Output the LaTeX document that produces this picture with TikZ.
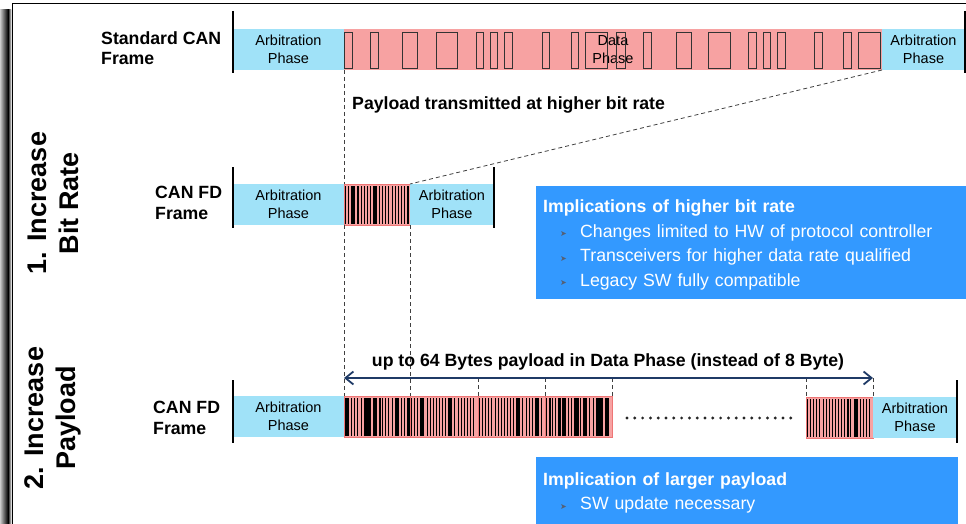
\documentclass[tikz,border=0pt]{standalone}
\usepackage{fontspec}
\setmainfont{Liberation Sans}
\newfontfamily\symfont{DejaVu Sans}
\usetikzlibrary{arrows.meta, positioning, calc}
\definecolor{cfarb}{RGB}{160,226,248}
\definecolor{cfdata}{RGB}{247,162,162}
\definecolor{cfedge}{RGB}{238,118,118}
\definecolor{cfbox}{RGB}{51,153,255}
\definecolor{cfnavy}{RGB}{31,58,102}
\definecolor{cfbullet}{RGB}{85,95,115}
\newcommand\fs[2]{\fontsize{#1}{#2}\selectfont}
\newcommand\bul{\makebox[20pt][l]{\raisebox{0.5pt}{\symfont\fs{8}{8}\textcolor{cfbullet}{➤}}}}
\pgfmathdeclarerandomlist{barw}{{0.7}{0.7}{0.8}{1}{1.6}{3}}
% dense bit pattern inside a data block
\newcommand\burst[1]{%
  \foreach \k in {0,...,20} {
    \pgfmathrandomitem{\bw}{barw}
    \fill[black] ($(#1.north west)+(1+3.1*\k,1.5)$) rectangle ++(\bw,38);
  }
}
\tikzset{
    arb/.style={fill=cfarb, inner sep=0pt, outer sep=0pt, minimum height=41pt, anchor=north west,
                align=center, font=\fs{14.5}{18}},
    datablk/.style={arb, fill=cfdata, draw=cfedge, line width=0.8pt},
    framelbl/.style={font=\bfseries\fs{17.7}{20.5}, align=left, anchor=base west, inner sep=0pt},
    rowlbl/.style={font=\bfseries\fs{27}{32}, align=center, rotate=90, inner sep=0pt},
    note/.style={font=\bfseries\fs{17.7}{20}, inner sep=0pt},
    bound/.style={line width=1.4pt},
    guide/.style={line width=0.8pt, dash pattern=on 4pt off 3pt, black!75},
    pulse/.style={draw=black!80, line width=0.8pt},
    infobox/.style={fill=cfbox, text=white, inner xsep=7pt, inner ysep=0pt, anchor=north west,
                    align=left, font=\fs{17.7}{24.5}},
    span/.style={{Straight Barb[length=8pt,width=13pt]}-{Straight Barb[length=8pt,width=13pt]},
                 line width=1.8pt, draw=cfnavy},
}

\begin{document}
\begin{tikzpicture}[x=1pt, y=-1pt]
    \clip (0,0) rectangle (966,524);
    \pgfmathsetseed{11}
    % slide frame
    \shade[left color=gray!40, right color=black] (0,10) rectangle (8,524);
    \shade[left color=black, right color=white] (8,10) rectangle (11.5,524);
    \draw[line width=1.5pt] (12.5,524) -- (12.5,3.5) -- (966,3.5);

    \node[rowlbl] (r1) at (53,203) {1. Increase\\Bit Rate};
    \node[rowlbl] (r2) at (53,418) {2. Increase\\Payload};

    % standard CAN frame
    \node[framelbl] (slbl) at (101,65) {Standard CAN\\Frame};
    \node[arb, minimum width=111pt] (sarb1) at (233,29) {Arbitration\\Phase};
    \node[datablk, draw=none, minimum width=538pt, right=0pt of sarb1] (sdat) {Data\\Phase};
    \node[arb, minimum width=83pt, right=0pt of sdat] (sarb2) {Arbitration\\Phase};
    \foreach \a/\b in {344/352, 370/378, 402/417, 436/457, 476/483, 490/497, 504/512, 542/549,
                       571/578, 585/607, 616/625, 643/651, 676/691, 708/730, 748/756, 763/770,
                       777/785, 814/822, 843/851, 858/880}
        \draw[pulse] (\a,32) rectangle (\b,68);
    \draw[bound] ($(sarb1.north west)+(0,-18)$) -- ($(sarb1.south west)+(0,3)$);
    \draw[bound] ($(sarb2.north east)+(0,-18)$) -- ($(sarb2.south east)+(0,3)$);
    \node[note, anchor=base west] (ptxt) at (352,110) {Payload transmitted at higher bit rate};

    % CAN FD frame, higher bit rate
    \node[framelbl] (flbl) at (155,219) {CAN FD\\Frame};
    \node[arb, minimum width=111pt] (farb1) at (233,184) {Arbitration\\Phase};
    \node[datablk, minimum width=66pt, right=0pt of farb1] (fdat) {};
    \node[arb, minimum width=84pt, right=0pt of fdat] (farb2) {Arbitration\\Phase};
    \burst{fdat}
    \draw[bound] ($(farb1.north west)+(0,-17)$) -- ($(farb1.south west)+(0,3)$);
    \draw[bound] ($(farb2.north east)+(0,-17)$) -- ($(farb2.south east)+(0,3)$);

    \node[infobox, minimum width=430pt, minimum height=113pt, text width=416pt] (imp1) at (536,186)
        {\rule{0pt}{17pt}\textbf{Implications of higher bit rate}\\
         \hspace*{17pt}\bul Changes limited to HW of protocol controller\\
         \hspace*{17pt}\bul Transceivers for higher data rate qualified\\
         \hspace*{17pt}\bul Legacy SW fully compatible};

    % CAN FD frame, larger payload
    \node[framelbl] (plbl) at (153,434) {CAN FD\\Frame};
    \node[arb, minimum width=111pt] (parb1) at (233,396) {Arbitration\\Phase};
    \node[datablk, minimum width=66pt, right=0pt of parb1] (pd1) {};
    \node[datablk, minimum width=68pt, right=0pt of pd1] (pd2) {};
    \node[datablk, minimum width=67pt, right=0pt of pd2] (pd3) {};
    \node[datablk, minimum width=67pt, right=0pt of pd3] (pd4) {};
    \node[datablk, minimum width=67pt] (pd5) at (806,397) {};
    \node[arb, minimum width=84pt, right=0pt of pd5] (parb2) {Arbitration\\Phase};
    \foreach \n in {pd1,pd2,pd3,pd4,pd5} { \burst{\n} }
    \draw[bound] ($(parb1.north west)+(0,-16)$) -- ($(parb1.south west)+(0,6)$);
    \draw[bound] ($(parb2.north east)+(0,-17)$) -- ($(parb2.south east)+(0,5)$);
    \draw[line width=3.2pt, line cap=round, dash pattern=on 0pt off 7.8pt, black!85] (627,418) -- (792,418);

    % guides between the frames
    \coordinate (lvl) at (0,378);
    \draw[guide] (sdat.south west) -- (fdat.north west);
    \draw[guide] (fdat.south west) -- (pd1.north west);
    \draw[guide] (fdat.south east) -- (pd1.north east);
    \draw[guide] (sdat.south east) -- (fdat.north east);
    \foreach \a in {pd2.north east, pd3.north east, pd4.north east, pd5.north west, pd5.north east}
        \draw[guide] (\a |- lvl) -- (\a);
    \draw[span] (pd1.north west |- lvl) -- (pd5.north east |- lvl);
    \node[note, anchor=base] (stxt) at (608,366) {up to 64 Bytes payload in Data Phase (instead of 8 Byte)};

    \node[infobox, minimum width=422pt, minimum height=67pt, text width=408pt] (imp2) at (536,457)
        {\rule{0pt}{17pt}\textbf{Implication of larger payload}\\
         \hspace*{17pt}\bul SW update necessary};
\end{tikzpicture}
\end{document}
